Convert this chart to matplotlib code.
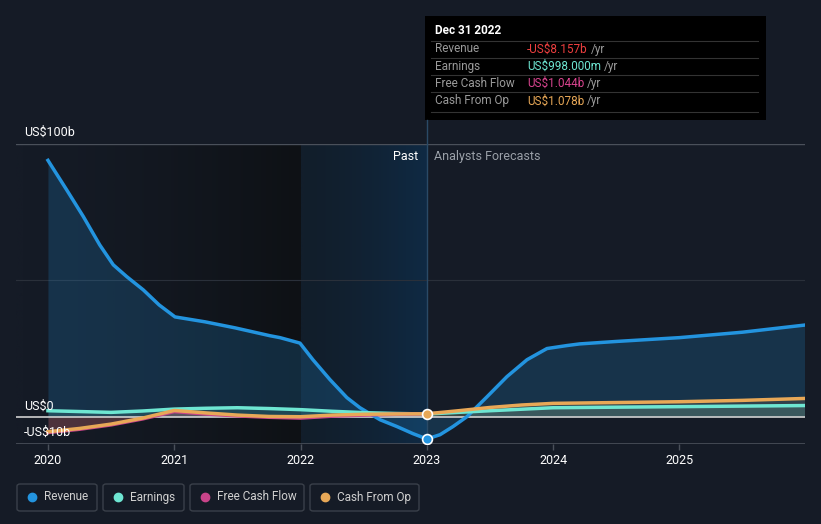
import numpy as np
import matplotlib.pyplot as plt
from matplotlib.patches import FancyBboxPatch, Rectangle
from matplotlib.colors import LinearSegmentedColormap

plt.rcParams['font.family'] = ['Roboto', 'DejaVu Sans']

# Data (US$ billions)
rev_x = [2020.0, 2020.148, 2020.28, 2020.41, 2020.517, 2020.623, 2020.755, 2020.88, 2021.006,
         2021.243, 2021.48, 2021.758, 2021.837, 2021.995, 2022.098, 2022.233, 2022.367, 2022.47,
         2022.629, 2022.763, 2022.89, 2023.0, 2023.104, 2023.207, 2023.317, 2023.476, 2023.634,
         2023.793, 2023.951, 2024.11, 2024.21, 2024.5, 2025.0, 2025.5, 2025.99]
rev_y = [94, 83.2, 73.4, 63, 55.7, 51.4, 46.5, 41, 36.6, 34.8, 32.6, 29.7, 29, 27, 20.9, 13.6, 7,
         3.3, -1.1, -3.6, -6.2, -8.157, -6.6, -3.6, 0, 7.3, 14.7, 20.9, 25, 26.1, 26.7, 27.6, 29,
         31, 33.6]

earn_x = [2020.0, 2020.25, 2020.5, 2020.75, 2021.0, 2021.25, 2021.5, 2021.75, 2022.0, 2022.25,
          2022.5, 2022.75, 2023.0, 2023.5, 2024.0, 2024.5, 2025.0, 2025.5, 2025.99]
earn_y = [2.2, 1.9, 1.6, 2.1, 2.8, 3.1, 3.3, 3.0, 2.6, 2.0, 1.5, 1.2, 1.0, 2.2, 3.3, 3.5, 3.7, 3.9, 4.1]

fcf_x = [2020.0, 2020.25, 2020.5, 2020.75, 2021.0, 2021.25, 2021.5, 2021.75, 2022.0, 2022.25,
         2022.5, 2022.75, 2023.0]
fcf_y = [-5.8, -4.6, -3.0, -0.8, 1.9, 1.0, 0.3, -0.2, -0.5, 0.2, 0.6, 0.9, 1.044]

cfo_x = [2020.0, 2020.25, 2020.5, 2020.75, 2021.0, 2021.25, 2021.5, 2021.75, 2022.0, 2022.25,
         2022.5, 2022.75, 2023.0, 2023.25, 2023.5, 2023.75, 2024.0, 2024.5, 2025.0, 2025.5, 2025.99]
cfo_y = [-5.5, -4.3, -2.7, -0.5, 2.3, 1.4, 0.6, 0.1, 0.0, 0.6, 0.9, 1.0, 1.078, 2.2, 3.4, 4.3, 4.9,
         5.2, 5.5, 6.0, 6.7]

years = [2020, 2021, 2022, 2023, 2024, 2025]

bg = '#151b26'
c_rev = '#2394df'
c_earn = '#6ee6d2'
c_fcf = '#c9448a'
c_cfo = '#e8a857'

fig = plt.figure(figsize=(8.21, 5.24), dpi=100, facecolor=bg)
W, H = 821, 524
ax = fig.add_axes([16 / W, 1 - 444 / H, (805 - 16) / W, 300 / H])
ax.set_facecolor(bg)
x0, x1 = 2019.747, 2025.994
ax.set_xlim(x0, x1)
ax.set_ylim(-10, 100)

# past shading: darkening gradient up to 2022, highlight 2022-2023
grad = np.linspace(0, 1, 256).reshape(1, -1) ** 1.5
cmap = LinearSegmentedColormap.from_list('g', [bg, '#0e1115'])
ax.imshow(grad, extent=[x0, 2022.0, -10, 100], aspect='auto', cmap=cmap, zorder=0)
cmap2 = LinearSegmentedColormap.from_list('b', ['#121e2b', '#0f2a44'])
ax.imshow(grad, extent=[2022.0, 2023.0, -10, 100], aspect='auto', cmap=cmap2, zorder=0)

# grid lines
ax.axhline(100, color='#4a505a', lw=1, zorder=1)
ax.axhline(50, color='#2a303a', lw=0.8, zorder=1)
ax.axhline(-10, color='#4a505a', lw=1.2, zorder=1)

# fills
ax.fill_between(rev_x, rev_y, 0, color=c_rev, alpha=0.2, lw=0, zorder=2)
ax.fill_between(earn_x, earn_y, 0, color=c_earn, alpha=0.15, lw=0, zorder=2)
ax.fill_between(fcf_x, fcf_y, 0, color=c_fcf, alpha=0.2, lw=0, zorder=2)
ax.fill_between(cfo_x, cfo_y, 0, color=c_cfo, alpha=0.12, lw=0, zorder=2)

ax.axhline(0, color='#d0d0d0', lw=1.2, zorder=3)

# lines
ax.plot(rev_x, rev_y, color=c_rev, lw=2.5, zorder=5, solid_joinstyle='round')
ax.plot(earn_x, earn_y, color=c_earn, lw=2.5, zorder=5, solid_joinstyle='round')
ax.plot(fcf_x, fcf_y, color=c_fcf, lw=2.5, zorder=5, solid_joinstyle='round')
ax.plot(cfo_x, cfo_y, color=c_cfo, lw=2.5, zorder=6, solid_joinstyle='round')

# markers at the hover point
ax.scatter([2023.0], [rev_y[rev_x.index(2023.0)]], s=50, color=c_rev, edgecolor='white', lw=1.2, zorder=8)
ax.scatter([2023.0], [cfo_y[cfo_x.index(2023.0)]], s=50, color=c_cfo, edgecolor='white', lw=1.2, zorder=8)

# hover line
ax.axvline(2023.0, color='#2a4a66', lw=1, zorder=4)
fig.add_artist(plt.Line2D([427 / W, 427 / W], [1 - 144 / H, 1 - 120 / H], color='#2a4a66', lw=1))

for s in ax.spines.values():
    s.set_visible(False)
ax.set_yticks([])
ax.set_xticks(years)
ax.set_xticklabels([str(y) for y in years], fontsize=9)
ax.tick_params(axis='x', colors='#4a505a', length=4, width=1, pad=3, labelcolor='white')

# y labels
ax.text(2019.81, 1.5, 'US$0', color='white', fontsize=9, va='bottom', ha='left', zorder=9)
ax.text(2019.81, -8, '-US$10b', color='white', fontsize=9, va='bottom', ha='left', zorder=9)
fig.text(24 / W, 1 - 132 / H, 'US$100b', color='white', fontsize=9, va='center', ha='left')

# Past / forecast labels
ax.text(2022.93, 95.5, 'Past', color='white', fontsize=9, ha='right', va='center', zorder=9)
ax.text(2023.06, 95.5, 'Analysts Forecasts', color='#9aa0a8', fontsize=9, ha='left', va='center', zorder=9)

# tooltip
fig.add_artist(Rectangle((425 / W, 1 - 120 / H), 341 / W, 104 / H, facecolor='black',
                         edgecolor='none', transform=fig.transFigure))
fig.text(435 / W, 1 - 31 / H, 'Dec 31 2022', color='white', fontsize=8.5, va='center', fontweight='bold')
rows = [('Revenue', '-US$8.157b', '#ee3f3f'),
        ('Earnings', 'US$998.000m', c_earn),
        ('Free Cash Flow', 'US$1.044b', '#d9448f'),
        ('Cash From Op', 'US$1.078b', c_cfo)]
for i, (lab, val, col) in enumerate(rows):
    yy = 49 + i * 17.3
    fig.add_artist(plt.Line2D([431 / W, 758 / W], [1 - (yy - 8.5) / H] * 2, color='#333333', lw=0.8))
    fig.text(435 / W, 1 - yy / H, lab, color='#9a9a9a', fontsize=8.5, va='center')
    t = fig.text(527 / W, 1 - yy / H, val, color=col, fontsize=8.5, va='center')
    fig.canvas.draw()
    bb = t.get_window_extent()
    fig.text((bb.x1 + 3) / W, 1 - yy / H, '/yr', color='#9a9a9a', fontsize=8.5, va='center')
fig.add_artist(plt.Line2D([431 / W, 758 / W], [1 - 112 / H] * 2, color='#333333', lw=0.8))

# legend
items = [('Revenue', c_rev, 17, 97), ('Earnings', c_earn, 103, 184),
         ('Free Cash Flow', c_fcf, 190, 304), ('Cash From Op', c_cfo, 310, 419)]
for lab, col, xa, xb in items:
    fig.add_artist(FancyBboxPatch((xa / W, 1 - 511 / H), (xb - xa) / W, 27 / H,
                                  boxstyle='round,pad=0,rounding_size=0.004', facecolor='none',
                                  edgecolor='#3a404a', lw=1, transform=fig.transFigure))
    fig.add_artist(plt.Line2D([(xa + 15) / W], [1 - 497 / H], marker='o', markersize=6,
                              color=col, transform=fig.transFigure))
    fig.text((xa + 27) / W, 1 - 497 / H, lab, color='#d0d0d0', fontsize=8.5, va='center')

fig.savefig('out.png', dpi=100, facecolor=bg)
